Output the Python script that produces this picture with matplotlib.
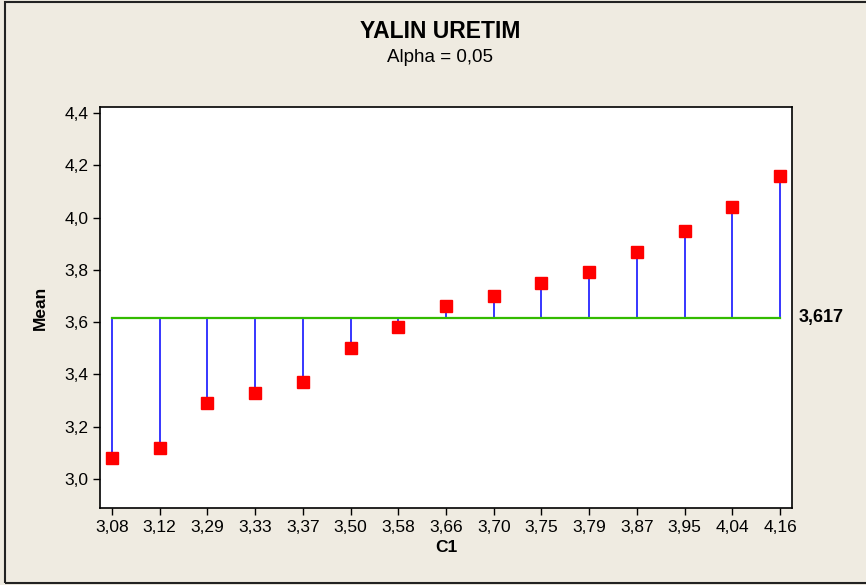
import matplotlib
matplotlib.use("Agg")
import matplotlib.pyplot as plt
from matplotlib.patches import Rectangle

plt.rcParams['font.family'] = ['Liberation Sans', 'DejaVu Sans']

# group means (also used as category labels)
labels = ["3,08", "3,12", "3,29", "3,33", "3,37", "3,50", "3,58", "3,66",
          "3,70", "3,75", "3,79", "3,87", "3,95", "4,04", "4,16"]
means = [3.08, 3.12, 3.29, 3.33, 3.37, 3.50, 3.58, 3.66,
         3.70, 3.75, 3.79, 3.87, 3.95, 4.04, 4.16]
center = 3.617
yticks = [3.0, 3.2, 3.4, 3.6, 3.8, 4.0, 4.2, 4.4]

bg = "#efebe1"
fig = plt.figure(figsize=(8.66, 5.85), dpi=100, facecolor=bg)
ax = fig.add_axes([100 / 866, 77 / 585, 692 / 866, 401 / 585])
ax.set_facecolor("white")

x = list(range(len(means)))
ax.vlines(x, center, means, color="#0000ff", lw=1.1, zorder=2)
ax.plot([x[0], x[-1]], [center, center], color="#33bb00", lw=1.6, zorder=3)
ax.plot(x, means, "s", color="#ff0000", ms=8, mec="#ff0000", zorder=4)

ax.set_xlim(-0.25, len(means) - 0.75)
ax.set_ylim(2.889, 4.423)
ax.set_xticks(x)
ax.set_xticklabels(labels)
ax.set_yticks(yticks)
ax.set_yticklabels([f"{v:.1f}".replace(".", ",") for v in yticks])
ax.tick_params(direction="out", length=5, width=1, labelsize=12.5, colors="black")
for s in ax.spines.values():
    s.set_linewidth(1.2)

ax.set_xlabel("C1", fontsize=12.5, fontweight="bold", labelpad=4)
ax.set_ylabel("Mean", fontsize=12.5, fontweight="bold", labelpad=12)

ax.text(1.01, center, "3,617", transform=ax.get_yaxis_transform(),
        ha="left", va="center", fontsize=13, fontweight="bold")

fig.text(0.508, 1 - 32 / 585, "YALIN URETIM", ha="center", va="center",
         fontsize=16.5, fontweight="bold")
fig.text(0.508, 1 - 58 / 585, "Alpha = 0,05", ha="center", va="center", fontsize=13.5)

# outer frame
fig.patches.append(Rectangle((5 / 866, 2 / 585), 2, 581 / 585, transform=fig.transFigure,
                             fill=False, edgecolor="#222222", lw=1.5))

fig.savefig("out.png", dpi=100, facecolor=bg)
